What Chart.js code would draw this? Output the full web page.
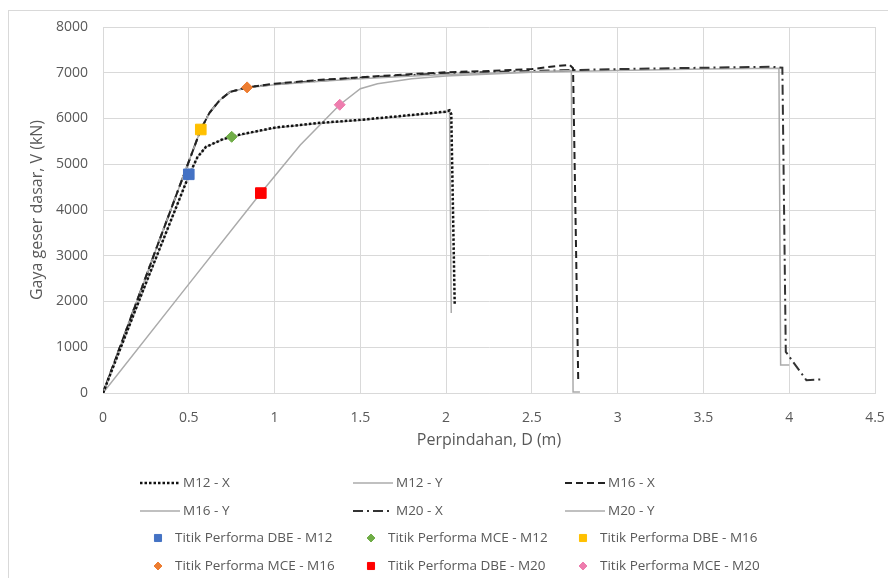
<!DOCTYPE html>
<html>
<head>
<meta charset="utf-8">
<script src="https://cdn.jsdelivr.net/npm/chart.js@4.4.0/dist/chart.umd.min.js"></script>
<style>
  body { margin: 0; background: #fff; }
  canvas { display: block; }
</style>
</head>
<body>
<canvas id="mycanvas" width="888" height="578"></canvas>
<script>
// pushover curves, D (m) vs V (kN)
var m12x_D = [0, 0.25, 0.5, 0.55, 0.6, 0.7, 0.8, 1.0, 1.25, 1.5, 1.75, 2.0, 2.02, 2.03, 2.05];
var m12x_V = [0, 2400, 4750, 5150, 5380, 5550, 5650, 5800, 5900, 5970, 6060, 6150, 6180, 6100, 1950];

var m12y_D = [0, 0.5, 0.55, 0.6, 0.7, 0.8, 1.0, 1.25, 1.5, 1.75, 2.0, 2.02, 2.03];
var m12y_V = [0, 4760, 5150, 5380, 5540, 5640, 5790, 5890, 5960, 6050, 6140, 6160, 1750];

var m16x_D = [0, 0.3, 0.57, 0.62, 0.68, 0.74, 0.84, 1.0, 1.25, 1.5, 1.75, 2.0, 2.25, 2.5, 2.65, 2.72, 2.74, 2.77, 2.79];
var m16x_V = [0, 3050, 5760, 6120, 6400, 6580, 6680, 6760, 6840, 6900, 6960, 7010, 7040, 7080, 7150, 7170, 7100, 300, 300];

var m16y_D = [0, 0.3, 0.57, 0.62, 0.68, 0.74, 0.84, 1.0, 1.25, 1.5, 1.75, 2.0, 2.25, 2.5, 2.73, 2.74, 2.78];
var m16y_V = [0, 3050, 5760, 6120, 6400, 6580, 6670, 6740, 6810, 6870, 6920, 6960, 6990, 7020, 7050, 20, 20];

var m20x_D = [0, 0.3, 0.57, 0.62, 0.68, 0.74, 0.84, 1.0, 1.5, 2.0, 2.5, 2.75, 3.0, 3.5, 3.9, 3.96, 3.98, 4.1, 4.2];
var m20x_V = [0, 3050, 5760, 6120, 6400, 6580, 6680, 6750, 6890, 6990, 7040, 7060, 7080, 7110, 7130, 7110, 900, 280, 300];

var m20y_D = [0, 0.5, 0.92, 1.15, 1.38, 1.5, 1.6, 1.8, 2.0, 2.5, 3.0, 3.5, 3.94, 3.95, 4.0];
var m20y_V = [0, 2380, 4370, 5420, 6300, 6650, 6760, 6870, 6930, 7010, 7050, 7080, 7100, 610, 610];

// performance points
var perfLabels = ['Titik Performa DBE - M12', 'Titik Performa MCE - M12', 'Titik Performa DBE - M16',
                  'Titik Performa MCE - M16', 'Titik Performa DBE - M20', 'Titik Performa MCE - M20'];
var perfD = [0.5, 0.75, 0.57, 0.84, 0.92, 1.38];
var perfV = [4780, 5600, 5760, 6680, 4370, 6300];
var perfColors = ['#4472C4', '#70AD47', '#FFC000', '#ED7D31', '#FF0000', '#EE7DAE'];
var perfStyles = ['rect', 'rectRot', 'rect', 'rectRot', 'rect', 'rectRot'];

var xTicks = [0, 0.5, 1, 1.5, 2, 2.5, 3, 3.5, 4, 4.5];
var yTicks = [0, 1000, 2000, 3000, 4000, 5000, 6000, 7000, 8000];

function pts(D, V) {
	var out = [];
	for (var i = 0; i < D.length; i++) out.push({x: D[i], y: V[i]});
	return out;
}

function lineSet(label, D, V, color, width, dash) {
	return {
		label: label, data: pts(D, V), showLine: true,
		borderColor: color, backgroundColor: color, borderWidth: width,
		borderDash: dash, pointRadius: 0, order: 1
	};
}

var datasets = [
	lineSet('M12 - X', m12x_D, m12x_V, '#111111', 2.5, [2.5, 2]),
	lineSet('M12 - Y', m12y_D, m12y_V, '#ababab', 1.5, []),
	lineSet('M16 - X', m16x_D, m16x_V, '#222222', 2, [7, 4]),
	lineSet('M16 - Y', m16y_D, m16y_V, '#ababab', 1.5, []),
	lineSet('M20 - X', m20x_D, m20x_V, '#333333', 2, [10, 4, 2, 4]),
	lineSet('M20 - Y', m20y_D, m20y_V, '#ababab', 1.5, [])
];
for (var i = 0; i < perfLabels.length; i++) {
	var sq = perfStyles[i] === 'rect';
	datasets.push({
		label: perfLabels[i], data: [{x: perfD[i], y: perfV[i]}], showLine: false,
		pointStyle: perfStyles[i], pointRadius: sq ? 7.5 : 5.5,
		backgroundColor: perfColors[i], borderColor: perfColors[i], borderWidth: 1, order: 0
	});
}

var legendRows = [483, 511, 538, 566];
var legendCols = [140, 353, 565];

var frame = {
	id: 'frame',
	beforeDraw: function(chart) {
		var c = chart.ctx;
		c.save();
		c.fillStyle = '#fff';
		c.fillRect(0, 0, chart.width, chart.height);
		c.strokeStyle = '#d9d9d9';
		c.lineWidth = 1;
		c.strokeRect(8.5, 10.5, chart.width, chart.height);
		c.restore();
	}
};

var sideLegend = {
	id: 'sideLegend',
	afterDraw: function(chart) {
		var c = chart.ctx;
		c.save();
		c.font = '13.5px "Open Sans"';
		c.textBaseline = 'middle';
		chart.data.datasets.forEach(function(ds, i) {
			var y = legendRows[Math.floor(i / 3)];
			var x0 = legendCols[i % 3];
			if (ds.showLine) {
				c.strokeStyle = ds.borderColor;
				c.lineWidth = ds.borderWidth;
				c.setLineDash(ds.borderDash);
				c.beginPath();
				c.moveTo(x0, y);
				c.lineTo(x0 + 40, y);
				c.stroke();
				c.setLineDash([]);
				c.fillStyle = '#595959';
				c.fillText(ds.label, x0 + 43, y);
			} else {
				c.fillStyle = ds.backgroundColor;
				c.strokeStyle = ds.borderColor;
				c.lineWidth = 1;
				Chart.helpers.drawPoint(c, {pointStyle: ds.pointStyle, radius: ds.pointStyle === 'rect' ? 5 : 4, rotation: 0, borderWidth: 1}, x0 + 18, y);
				c.fillStyle = '#595959';
				c.fillText(ds.label, x0 + 35, y);
			}
		});
		c.restore();
	}
};

var ctx = document.getElementById('mycanvas');

var chart = new Chart(ctx, {
	type: 'scatter',
	data: { datasets: datasets },
	options: {
		responsive: false,
		animation: false,
		layout: { padding: { top: 27, right: 13, bottom: 125, left: 0 } },
		plugins: { legend: { display: false }, tooltip: { enabled: false } },
		scales: {
			x: {
				type: 'linear', min: 0, max: 4.5,
				afterFit: function(s) { s.height = 60; s.paddingRight = 13; s.paddingLeft = 0; },
				afterBuildTicks: function(s) { s.ticks = xTicks.map(function(v) { return {value: v}; }); },
				grid: { color: '#d9d9d9', drawTicks: false },
				border: { color: '#d9d9d9' },
				ticks: { color: '#595959', font: { family: 'Open Sans', size: 14 }, padding: 17, maxRotation: 0,
					callback: function(v) { return String(v); } },
				title: { display: true, text: 'Perpindahan, D (m)', color: '#595959',
					font: { family: 'Open Sans', size: 16 }, padding: { top: 0, bottom: 3 } }
			},
			y: {
				type: 'linear', min: 0, max: 8000,
				afterFit: function(s) { s.width = 103; },
				afterBuildTicks: function(s) { s.ticks = yTicks.map(function(v) { return {value: v}; }); },
				grid: { color: '#d9d9d9', drawTicks: false },
				border: { color: '#d9d9d9' },
				ticks: { color: '#595959', font: { family: 'Open Sans', size: 14 }, padding: 15,
					callback: function(v) { return String(v); } },
				title: { display: true, text: 'Gaya geser dasar, V (kN)', color: '#595959',
					font: { family: 'Open Sans', size: 16 }, padding: { top: 28, bottom: 0 } }
			}
		}
	},
	plugins: [frame, sideLegend]
});
</script>
</body>
</html>
